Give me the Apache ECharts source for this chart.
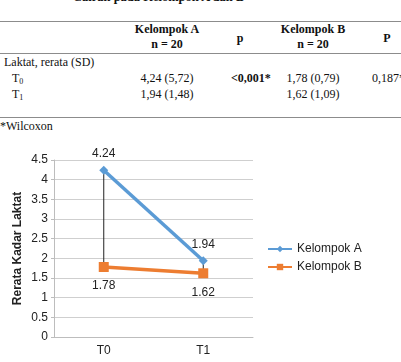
<!DOCTYPE html>
<html>
<head>
<meta charset="utf-8">
<script src="https://cdn.jsdelivr.net/npm/echarts@6/dist/echarts.min.js"></script>
<style>
  html, body { margin: 0; padding: 0; background: #fff; }
  #page { position: relative; width: 401px; height: 362px; overflow: hidden; font-family: "Liberation Serif", "DejaVu Serif", serif; font-size: 12px; color: #111; }
  .t { position: absolute; white-space: nowrap; line-height: 14px; }
  .c { transform: translateX(-50%); }
  .b { font-weight: bold; }
  .rule { position: absolute; left: 0; width: 401px; height: 1px; background: #8c8c8c; }
  sub { font-size: 8px; vertical-align: -2px; line-height: 0; }
  #chart { position: absolute; left: 0; top: 130px; width: 401px; height: 232px; }
</style>
</head>
<body>
<div id="page">
  <div class="t b" style="left:73px; top:-10px; font-size:12.5px;">Cairan pada Kelompok A dan B</div>
  <div class="rule" style="top:21px;"></div>
  <div class="t b c" style="left:167px; top:22px;">Kelompok A</div>
  <div class="t b c" style="left:167px; top:37px;">n = 20</div>
  <div class="t b c" style="left:240px; top:31px;">p</div>
  <div class="t b c" style="left:313px; top:22px;">Kelompok B</div>
  <div class="t b c" style="left:313px; top:37px;">n = 20</div>
  <div class="t b c" style="left:387px; top:31px;">P</div>
  <div class="rule" style="top:53px;"></div>
  <div class="t" style="left:4px; top:55px;">Laktat, rerata (SD)</div>
  <div class="t" style="left:12px; top:71px;">T<sub>0</sub></div>
  <div class="t c" style="left:167px; top:71px;">4,24 (5,72)</div>
  <div class="t b" style="left:231px; top:71px;">&lt;0,001*</div>
  <div class="t c" style="left:313px; top:71px;">1,78 (0,79)</div>
  <div class="t" style="left:372px; top:71px;">0,187*</div>
  <div class="t" style="left:12px; top:87px;">T<sub>1</sub></div>
  <div class="t c" style="left:167px; top:87px;">1,94 (1,48)</div>
  <div class="t c" style="left:313px; top:87px;">1,62 (1,09)</div>
  <div class="rule" style="top:117px;"></div>
  <div class="t" style="left:0px; top:119px;">*Wilcoxon</div>
  <div id="chart"></div>
</div>
<script>
const categories = ["T0", "T1"];
const kelompokA = [4.24, 1.94];
const kelompokB = [1.78, 1.62];

const chart = echarts.init(document.getElementById("chart"));

// garis tinggi-rendah antara A dan B
const hiLo = categories.map((c, i) => [i, kelompokA[i], kelompokB[i]]);

const sans = "Liberation Sans, Arial, sans-serif";

const option = {
  animation: false,
  grid: { left: 54, top: 30, width: 199, height: 177 },
  legend: {
    orient: "vertical",
    left: 262,
    top: 108,
    itemWidth: 24,
    itemHeight: 8,
    itemGap: 6,
    textStyle: { fontFamily: sans, fontSize: 12, color: "#222" },
    data: ["Kelompok A", "Kelompok B"]
  },
  xAxis: {
    type: "category",
    data: categories,
    boundaryGap: true,
    axisLine: { lineStyle: { color: "#bdbdbd" } },
    axisTick: { show: false },
    axisLabel: { fontFamily: sans, fontSize: 12, color: "#222", margin: 8 }
  },
  yAxis: {
    type: "value",
    min: 0,
    max: 4.5,
    interval: 0.5,
    name: "Rerata Kadar Laktat",
    nameLocation: "middle",
    nameGap: 30,
    nameTextStyle: { fontFamily: sans, fontSize: 12, fontWeight: "bold", color: "#222" },
    axisLine: { show: true, lineStyle: { color: "#bdbdbd" } },
    axisTick: { show: true, length: 3, lineStyle: { color: "#bdbdbd" } },
    axisLabel: { fontFamily: sans, fontSize: 12, color: "#222", margin: 6 },
    splitLine: { lineStyle: { color: "#cfcfcf" } }
  },
  series: [
    {
      type: "custom",
      z: 1,
      silent: true,
      data: hiLo,
      renderItem: (params, api) => {
        const p1 = api.coord([api.value(0), api.value(1)]);
        const p2 = api.coord([api.value(0), api.value(2)]);
        return {
          type: "line",
          shape: { x1: p1[0], y1: p1[1], x2: p2[0], y2: p2[1] },
          style: { stroke: "#222", lineWidth: 1 }
        };
      }
    },
    {
      name: "Kelompok A",
      type: "line",
      z: 3,
      data: kelompokA,
      symbol: "diamond",
      symbolSize: 9,
      lineStyle: { color: "#5b9bd5", width: 3.5 },
      itemStyle: { color: "#5b9bd5" },
      label: {
        show: true,
        position: "top",
        distance: 6,
        fontFamily: sans,
        fontSize: 12,
        color: "#222"
      }
    },
    {
      name: "Kelompok B",
      type: "line",
      z: 3,
      data: kelompokB,
      symbol: "rect",
      symbolSize: 10,
      lineStyle: { color: "#ed7d31", width: 3.5 },
      itemStyle: { color: "#ed7d31" },
      label: {
        show: true,
        position: "bottom",
        distance: 8,
        fontFamily: sans,
        fontSize: 12,
        color: "#222"
      }
    }
  ]
};

chart.setOption(option);
</script>
</body>
</html>
